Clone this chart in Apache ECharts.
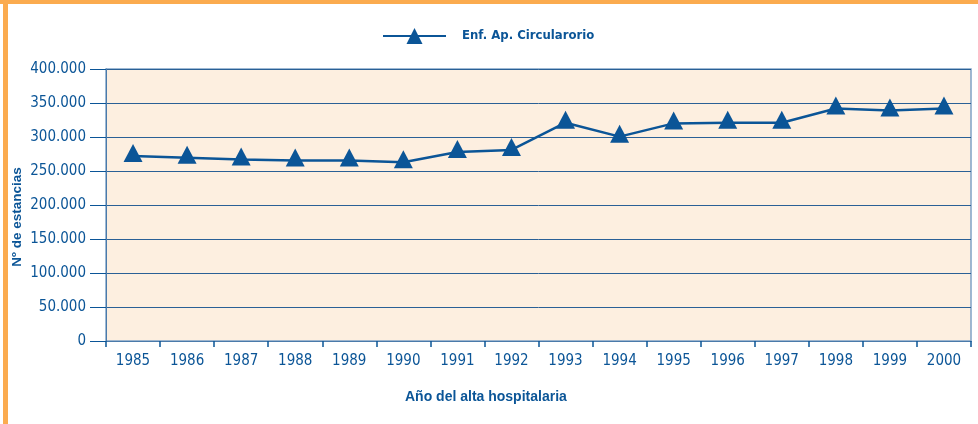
<!DOCTYPE html>
<html>
<head>
<meta charset="utf-8">
<script src="https://cdn.jsdelivr.net/npm/echarts@6/dist/echarts.min.js"></script>
<style>
html,body{margin:0;padding:0;background:#fff;}
#c{width:978px;height:424px;}
</style>
</head>
<body>
<div id="c"></div>
<script>
var years = ['1985','1986','1987','1988','1989','1990','1991','1992','1993','1994','1995','1996','1997','1998','1999','2000'];
var estancias = [272000, 269500, 267000, 265500, 265500, 263000, 278000, 281000, 321000, 300500, 320000, 321000, 321000, 342000, 339000, 342000];
var seriesName = 'Enf. Ap. Circularorio';
var xName = 'Año del alta hospitalaria';
var yName = 'Nº de estancias';

var blue = '#0b5597';
var condensed = '"DejaVu Sans Condensed", "Liberation Sans Narrow", Roboto, sans-serif';
var fmt = function (v) { return String(v).replace(/\B(?=(\d{3})+(?!\d))/g, '.'); };

var chart = echarts.init(document.getElementById('c'));
chart.setOption({
  animation: false,
  backgroundColor: '#ffffff',
  grid: {
    left: 106, right: 7, top: 69, bottom: 83,
    show: true, backgroundColor: '#fdefe0', borderColor: '#7fa3c6', borderWidth: 1.5
  },
  legend: {
    left: 377, top: 23,
    itemWidth: 63, itemHeight: 20,
    data: [seriesName],
    textStyle: { color: blue, fontFamily: condensed, fontWeight: 'bold', fontSize: 13, padding: [0, 0, 0, 11] }
  },
  xAxis: {
    type: 'category',
    data: years,
    boundaryGap: true,
    axisLine: { lineStyle: { color: '#4a7aaa', width: 1 } },
    axisTick: { show: true, length: 6, lineStyle: { color: blue, width: 1.5 } },
    axisLabel: { color: blue, fontFamily: condensed, fontSize: 15, margin: 13 }
  },
  yAxis: {
    type: 'value',
    min: 0, max: 400000, interval: 50000,
    axisLine: { show: true, lineStyle: { color: '#4a7aaa', width: 1 } },
    axisTick: { show: true, length: 16, lineStyle: { color: blue, width: 1 } },
    axisLabel: { color: blue, fontFamily: condensed, fontSize: 15, margin: 20, formatter: fmt },
    splitLine: { show: true, lineStyle: { color: '#2a6096', width: 1 } }
  },
  series: [{
    name: seriesName,
    type: 'line',
    data: estancias,
    symbol: 'triangle',
    symbolSize: [19, 18],
    symbolOffset: [0, -3],
    itemStyle: { color: blue },
    lineStyle: { color: blue, width: 2.5 }
  }],
  graphic: [
    { type: 'rect', shape: { x: 0, y: 0, width: 978, height: 4 }, style: { fill: '#fbab4f' }, silent: true },
    { type: 'rect', shape: { x: 3, y: 0, width: 5, height: 424 }, style: { fill: '#fbab4f' }, silent: true },
    { type: 'text', left: 405, top: 390, style: { text: xName, fill: blue, font: 'bold 14px "Liberation Sans"' } },
    { type: 'text', x: 17, y: 217, rotation: Math.PI / 2, style: { text: yName, fill: blue, font: 'bold 13.5px "Liberation Sans"', align: 'center', verticalAlign: 'middle' } }
  ]
});
</script>
</body>
</html>
